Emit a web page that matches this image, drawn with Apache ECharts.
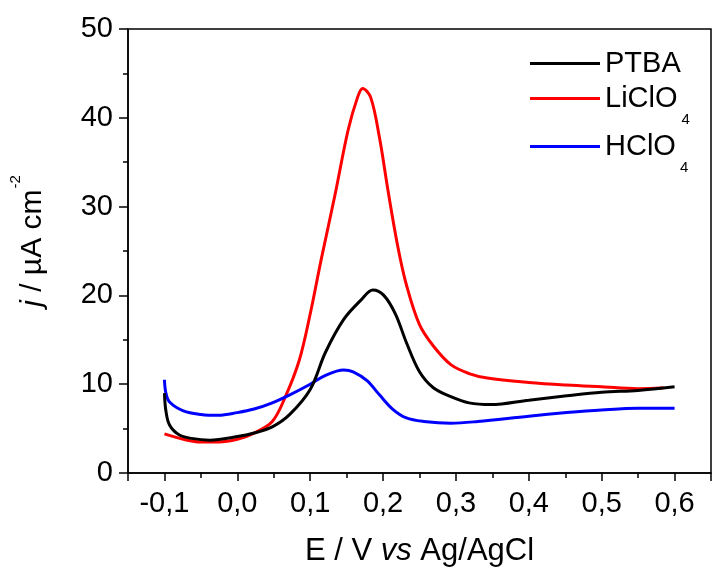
<!DOCTYPE html>
<html>
<head>
<meta charset="utf-8">
<script src="https://cdn.jsdelivr.net/npm/echarts@6/dist/echarts.min.js"></script>
<style>
html, body { margin: 0; padding: 0; background: #fff; }
#chart { width: 714px; height: 572px; }
</style>
</head>
<body>
<div id="chart"></div>
<script>
// potential (V vs Ag/AgCl) and current density (uA cm-2)
var ptbaE = [-0.1, -0.098, -0.093, -0.08, -0.063, -0.038, 0.0, 0.023, 0.048, 0.072, 0.1, 0.121, 0.146, 0.17, 0.186, 0.201, 0.217, 0.232, 0.25, 0.269, 0.293, 0.318, 0.348, 0.4, 0.452, 0.5, 0.55, 0.6];
var ptbaJ = [9.0, 7.0, 5.4, 4.3, 3.9, 3.7, 4.1, 4.5, 5.2, 6.6, 9.4, 13.6, 17.3, 19.5, 20.6, 20.0, 17.9, 14.7, 11.4, 9.6, 8.6, 7.9, 7.7, 8.2, 8.7, 9.1, 9.3, 9.7];

var liE = [-0.1, -0.074, -0.05, -0.026, 0.0, 0.023, 0.048, 0.066, 0.085, 0.1, 0.115, 0.134, 0.152, 0.165, 0.172, 0.183, 0.195, 0.207, 0.22, 0.232, 0.25, 0.269, 0.293, 0.318, 0.343, 0.4, 0.452, 0.5, 0.55, 0.585];
var liJ = [4.4, 3.8, 3.5, 3.5, 3.8, 4.5, 5.8, 8.6, 12.7, 17.9, 24.0, 31.3, 38.6, 42.3, 43.3, 42.3, 37.8, 31.7, 25.6, 21.2, 16.7, 14.3, 12.2, 11.2, 10.7, 10.2, 9.9, 9.7, 9.5, 9.6];

var hclE = [-0.1, -0.098, -0.093, -0.074, -0.05, -0.026, 0.0, 0.023, 0.048, 0.072, 0.1, 0.121, 0.146, 0.159, 0.178, 0.195, 0.213, 0.232, 0.256, 0.293, 0.33, 0.4, 0.452, 0.5, 0.55, 0.6];
var hclJ = [10.5, 9.0, 8.0, 7.0, 6.6, 6.5, 6.8, 7.2, 7.9, 8.8, 10.0, 11.0, 11.6, 11.4, 10.4, 8.8, 7.2, 6.2, 5.8, 5.6, 5.8, 6.4, 6.8, 7.1, 7.3, 7.3];

var seriesNames = ['PTBA', 'LiClO4', 'HClO4'];
var seriesColors = ['#000000', '#ff0000', '#0000ff'];

var FONT = 'Liberation Sans, Arial, sans-serif';

function pairs(xs, ys) {
	var out = [];
	for (var i = 0; i < xs.length; i++) {
		out.push([xs[i], ys[i]]);
	}
	return out;
}

function commaLabel(v) {
	// only every 0.1 gets a label, decimal comma
	var k = Math.round(v * 100);
	if (k % 10 !== 0 || v < -0.1 || v > 0.6) {
		return '';
	}
	return (k / 100).toFixed(1).replace('.', ',');
}

function legendFor(name, top) {
	return {
		data : [ name ],
		left : 530,
		top : top,
		padding : 0,
		icon : 'rect',
		itemWidth : 70,
		itemHeight : 3,
		itemGap : 0,
		selectedMode : false,
		formatter : function(n) {
			if (n === 'PTBA') {
				return '{n|PTBA}';
			}
			return '{n|' + n.slice(0, -1) + '}{s|4}';
		},
		textStyle : {
			fontFamily : FONT,
			color : '#000',
			rich : {
				n : { fontSize : 29, lineHeight : 30, fontFamily : FONT, color : '#000', verticalAlign : 'middle' },
				s : { fontSize : 15, lineHeight : 58, fontFamily : FONT, color : '#000', verticalAlign : 'bottom', padding : [ 0, 0, 0, 4 ] }
			}
		}
	};
}

function makeSeries(name, xs, ys, color) {
	return {
		name : name,
		type : 'line',
		data : pairs(xs, ys),
		symbol : 'none',
		smooth : 0.35,
		lineStyle : { color : color, width : 3 },
		itemStyle : { color : color }
	};
}

function drawChart() {
	var chart = echarts.init(document.getElementById('chart'));

	chart.setOption({
		animation : false,
		backgroundColor : '#fff',
		grid : {
			left : 127,
			top : 29,
			bottom : 94,
			right : -6,
			show : true,
			borderColor : '#000',
			borderWidth : 1.5,
			containLabel : false
		},
		legend : [ legendFor('PTBA', 49), legendFor('LiClO4', 84), legendFor('HClO4', 132) ],
		xAxis : {
			type : 'value',
			min : -0.15,
			max : 0.65,
			splitNumber : 8,
			name : '{t|E / V }{i|vs}{t| Ag/AgCl}',
			nameLocation : 'middle',
			nameGap : 63,
			nameTextStyle : {
				rich : {
					t : { fontSize : 31, fontFamily : FONT, color : '#000' },
					i : { fontSize : 31, fontFamily : FONT, color : '#000', fontStyle : 'italic' }
				}
			},
			axisLine : { onZero : false, lineStyle : { color : '#000', width : 1.5 } },
			axisTick : { length : 8, lineStyle : { color : '#000', width : 1.5 } },
			minorTick : { show : true, splitNumber : 2, length : 5, lineStyle : { color : '#000', width : 1.5 } },
			splitLine : { show : false },
			axisLabel : {
				margin : 16,
				fontSize : 29,
				fontFamily : FONT,
				color : '#000',
				formatter : commaLabel
			}
		},
		yAxis : {
			type : 'value',
			min : 0,
			max : 50,
			interval : 10,
			name : '{i|j}{t| / \u00b5A cm}{sup|-2}',
			nameLocation : 'middle',
			nameGap : 70,
			nameTextStyle : {
				rich : {
					i : { fontSize : 30, lineHeight : 50, fontFamily : FONT, color : '#000', fontStyle : 'italic', verticalAlign : 'middle', padding : [ 0, 0, 0, 20 ] },
					t : { fontSize : 30, lineHeight : 50, fontFamily : FONT, color : '#000', verticalAlign : 'middle' },
					sup : { fontSize : 15, lineHeight : 15, fontFamily : FONT, color : '#000', verticalAlign : 'top', padding : [ 0, 0, 0, 1 ] }
				}
			},
			axisLine : { onZero : false, lineStyle : { color : '#000', width : 1.5 } },
			axisTick : { length : 9, lineStyle : { color : '#000', width : 1.5 } },
			minorTick : { show : true, splitNumber : 2, length : 5, lineStyle : { color : '#000', width : 1.5 } },
			splitLine : { show : false },
			axisLabel : {
				margin : 15,
				fontSize : 29,
				fontFamily : FONT,
				color : '#000'
			}
		},
		series : [
			makeSeries(seriesNames[1], liE, liJ, seriesColors[1]),
			makeSeries(seriesNames[2], hclE, hclJ, seriesColors[2]),
			makeSeries(seriesNames[0], ptbaE, ptbaJ, seriesColors[0])
		]
	});
}

drawChart();
</script>
</body>
</html>
